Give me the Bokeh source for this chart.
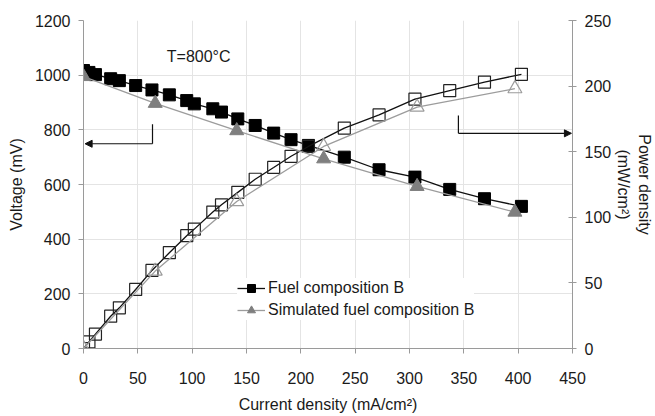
import math
from bokeh.plotting import figure
from bokeh.models import (Range1d, LinearAxis, FixedTicker, Label, Arrow,
                          NormalHead, Legend, LegendItem)
from bokeh.embed import file_html
from bokeh.resources import INLINE

# ---- data ----
current_meas = [0, 5, 11, 25, 33, 48, 63, 79, 95, 102, 119, 127, 142, 158, 175,
                191, 207, 240, 272, 305, 337, 369, 403]
voltage_meas = [1017, 1010, 1002, 987, 980, 962, 946, 928, 907, 895, 877, 865,
                840, 816, 788, 764, 743, 700, 654, 627, 582, 548, 520]
power_meas = [0, 5, 11, 24.6, 31, 45, 59.5, 73, 86, 91, 104, 109.5, 119, 129,
              138, 146.5, 154, 168, 178, 190, 196.5, 203, 209]

current_sim = [0, 66, 141, 221, 307, 397]
voltage_sim = [995, 897, 797, 694, 593, 499]
power_sim = [0, 59, 112, 154, 184, 198]

x_ticks = [0, 50, 100, 150, 200, 250, 300, 350, 400, 450]
v_ticks = [0, 200, 400, 600, 800, 1000, 1200]
p_ticks = [0, 50, 100, 150, 200, 250]

# annotation arrows (data coordinates)
left_arrow_x = [63.5, 1.5]       # bend x, head x
left_arrow_y = [820, 749]        # top of vertical, horizontal level
right_arrow_x = [345, 449]
right_arrow_y = [177.6, 164]

FONT = "Liberation Sans"
TXT = "#1a1a1a"
AX = "#9a9a9a"
GRID = "#e4e4e4"
GRAY = "#9c9c9c"
DGRAY = "#7f7f7f"
FS = "16px"

p = figure(width=655, height=416, x_range=Range1d(0, 450), y_range=Range1d(0, 1200),
           output_backend="svg", toolbar_location=None,
           min_border_left=83, min_border_right=83, min_border_top=20, min_border_bottom=68)
p.extra_y_ranges = {"power": Range1d(0, 250)}
p.outline_line_color = None
p.background_fill_color = "white"
p.border_fill_color = "white"

# grids
p.xgrid.ticker = FixedTicker(ticks=x_ticks)
p.ygrid.ticker = FixedTicker(ticks=v_ticks)
for g in (p.xgrid, p.ygrid):
    g.grid_line_color = GRID
    g.grid_line_width = 1

# axes
right = LinearAxis(y_range_name="power")
p.add_layout(right, "right")

def style_axis(ax, ticks, t_in, t_out, standoff, label, label_standoff):
    ax.ticker = FixedTicker(ticks=ticks)
    ax.axis_line_color = AX
    ax.axis_line_width = 1
    ax.major_tick_line_color = AX
    ax.major_tick_in = t_in
    ax.major_tick_out = t_out
    ax.minor_tick_line_color = None
    ax.major_label_text_font = FONT
    ax.major_label_text_font_size = FS
    ax.major_label_text_color = TXT
    ax.major_label_standoff = standoff
    ax.axis_label = label
    ax.axis_label_text_font = FONT
    ax.axis_label_text_font_size = FS
    ax.axis_label_text_font_style = "normal"
    ax.axis_label_text_color = TXT
    ax.axis_label_standoff = label_standoff

style_axis(p.xaxis[0], x_ticks, 0, 5, 18, "Current density (mA/cm²)", 9)
style_axis(p.yaxis[0], v_ticks, 0, 5, 8, "Voltage (mV)", 7)
style_axis(right, p_ticks, 4, 4, 8, "Power density\n(mW/cm²)", 1)

# measured series
l_v = p.line(current_meas, voltage_meas, line_color="#111111", line_width=1.3)
s_v = p.scatter(current_meas, voltage_meas, marker="square", size=12,
                fill_color="black", line_color="black", line_width=1)
p.line(current_meas, power_meas, line_color="#111111", line_width=1.3, y_range_name="power")
p.scatter(current_meas, power_meas, marker="square", size=12, fill_color=None,
          line_color="#222222", line_width=1.2, y_range_name="power")

# simulated series
l_s = p.line(current_sim, voltage_sim, line_color=GRAY, line_width=1.3)
s_s = p.scatter(current_sim, voltage_sim, marker="triangle", size=14,
                fill_color=DGRAY, line_color=DGRAY, line_width=1)
p.line(current_sim, power_sim, line_color=GRAY, line_width=1.3, y_range_name="power")
p.scatter(current_sim, power_sim, marker="triangle", size=14, fill_color=None,
          line_color=GRAY, line_width=1.2, y_range_name="power")

# legend
legend = Legend(items=[LegendItem(label="Fuel composition B", renderers=[l_v, s_v]),
                       LegendItem(label="Simulated fuel composition B", renderers=[l_s, s_s])],
                location=(154, 28))
legend.background_fill_color = "white"
legend.background_fill_alpha = 1
legend.border_line_color = None
legend.label_text_font = FONT
legend.label_text_font_size = FS
legend.label_text_color = TXT
legend.glyph_width = 28
legend.glyph_height = 20
legend.label_height = 20
legend.spacing = 2
legend.padding = 5
legend.margin = 0
legend.label_standoff = 3
p.add_layout(legend)

# annotations
p.add_layout(Label(x=106, y=1068, text="T=800°C", text_align="center", text_baseline="middle",
                   text_font=FONT, text_font_size=FS, text_color=TXT))

p.add_layout(Arrow(x_start=left_arrow_x[0], y_start=left_arrow_y[0],
                   x_end=left_arrow_x[0], y_end=left_arrow_y[1],
                   end=None, line_color="#111111", line_width=1.2))
p.add_layout(Arrow(x_start=left_arrow_x[0], y_start=left_arrow_y[1],
                   x_end=left_arrow_x[1], y_end=left_arrow_y[1],
                   end=NormalHead(size=7, fill_color="#111111", line_color="#111111"),
                   line_color="#111111", line_width=1.2))
p.add_layout(Arrow(x_start=right_arrow_x[0], y_start=right_arrow_y[0],
                   x_end=right_arrow_x[0], y_end=right_arrow_y[1],
                   end=None, line_color="#111111", line_width=1.2, y_range_name="power"))
p.add_layout(Arrow(x_start=right_arrow_x[0], y_start=right_arrow_y[1],
                   x_end=right_arrow_x[1], y_end=right_arrow_y[1],
                   end=NormalHead(size=7, fill_color="#111111", line_color="#111111"),
                   line_color="#111111", line_width=1.2, y_range_name="power"))

open("out.html", "w").write(file_html(p, INLINE))
